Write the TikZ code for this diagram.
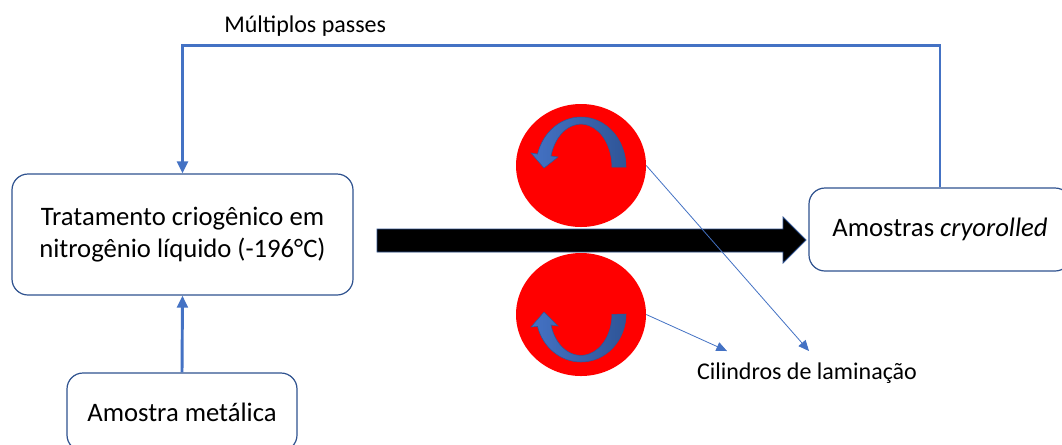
\documentclass[tikz,border=0pt]{standalone}
\usepackage{fontspec}
\setmainfont{Carlito}
\usetikzlibrary{arrows.meta,shapes.geometric}
\definecolor{lineblue}{RGB}{68,114,196}
\definecolor{darkblue}{RGB}{47,85,151}
\definecolor{boxedge}{RGB}{47,82,143}
\definecolor{rollred}{RGB}{255,0,0}
\tikzset{
  procbox/.style={draw=boxedge, line width=0.9pt, rounded corners=12pt, fill=white,
    align=center, inner sep=0pt, font=\fontsize{20}{24.5}\selectfont},
  feed/.style={draw=lineblue, line width=2.2pt,
    -{Triangle[length=9pt,width=8pt]}},
  thinlink/.style={draw=lineblue, line width=0.6pt,
    -{Triangle[length=8pt,width=7pt]}},
  roller/.style={ellipse, fill=rollred, draw=none, inner sep=0pt,
    minimum width=97.5pt, minimum height=92.25pt},
  curlarrow/.style={left color=lineblue, right color=darkblue, draw=darkblue, line width=0.4pt},
  lbl/.style={font=\fontsize{18}{22}\selectfont, inner sep=0pt}
}
\begin{document}
\begin{tikzpicture}[x=0.75pt,y=-0.75pt]
\clip (0,0) rectangle (1062,444);
\fill[white] (0,0) rectangle (1062,444);

% boxes
\node[procbox, minimum width=255.75pt, minimum height=90.75pt] (trat) at (182.5,234.5)
  {Tratamento criogênico em\\nitrogênio líquido (-196°C)};
\node[procbox, minimum width=196.5pt, minimum height=62.25pt] (amostras) at (940,229.5)
  {Amostras \textit{cryorolled}};
\node[procbox, minimum width=172.5pt, minimum height=58.5pt] (amostra) at (182,412)
  {Amostra metálica};

% rollers
\node[roller] (roll1) at (581,165.5) {};
\node[roller] (roll2) at (581,314.5) {};

% rolling direction arrow
\filldraw[fill=black, draw=boxedge, line width=0.6pt]
  (377,229) -- (783,229) -- (783,217) -- (806,240) -- (783,263) -- (783,252) -- (377,252) -- cycle;

% curved rotation arrows
\path[curlarrow] (626,167) arc[start angle=0, end angle=-165, x radius=45, y radius=50]
  -- (531,153) -- (544,168) -- (558,157) -- (551,156)
  arc[start angle=-165, end angle=0, x radius=31, y radius=43] -- cycle;
\path[curlarrow] (626,314) arc[start angle=0, end angle=165, x radius=45, y radius=48]
  -- (531,327) -- (544,312) -- (558,326) -- (551,325)
  arc[start angle=165, end angle=0, x radius=31, y radius=41] -- cycle;

% connectors
\draw[feed] (amostras.north) -- ++(0,-142) -| (trat.north);
\draw[feed] (amostra.north) -- (trat.south);

% labels
\node[lbl, anchor=base west] (passes) at (224,32) {Múltiplos passes};
\node[lbl, anchor=base] (cil) at (807,379) {Cilindros de laminação};
\coordinate (c1) at (809,351);
\coordinate (c2) at (727,351);
\draw[thinlink] (roll1.east) -- (c1);
\draw[thinlink] (roll2.east) -- (c2);
\end{tikzpicture}
\end{document}
